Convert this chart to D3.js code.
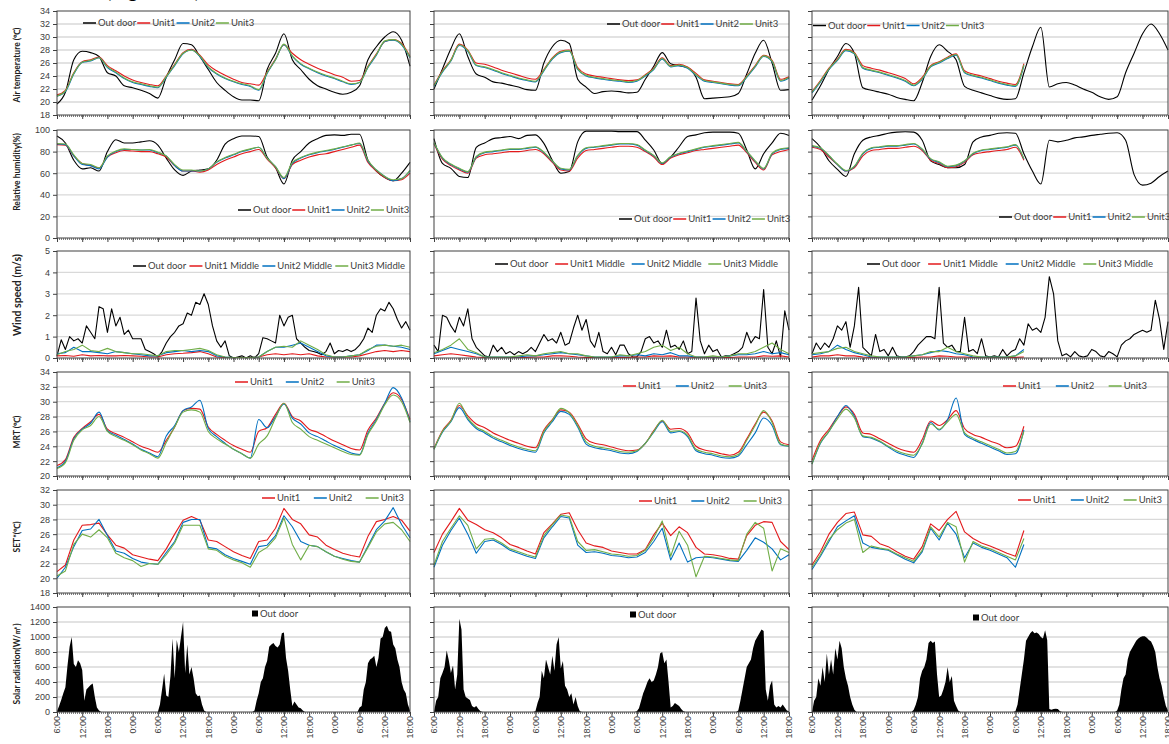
<!DOCTYPE html>
<html>
<head>
<meta charset="utf-8">
<script src="https://cdn.jsdelivr.net/npm/d3@7"></script>
<style>
  body { margin: 0; background: #fff; }
  svg { display: block; font-family: Lato, "Open Sans", sans-serif; }
  .tick text { font-size: 9px; fill: #404040; }
  .tick line { stroke: #404040; }
</style>
</head>
<body>
<svg id="chart" width="1169" height="744"></svg>
<script>
// ---- axis labels ----
const hourTicks = [0, 6, 12, 18, 24, 30, 36, 42, 48, 54, 60, 66, 72, 78, 84];
const hourLabels = ["6:00", "12:00", "18:00", "0:00", "6:00", "12:00", "18:00", "0:00",
  "6:00", "12:00", "18:00", "0:00", "6:00", "12:00", "18:00"];
const dateHours = [6, 30, 54, 78];
const datesA = ["11/1", "11/2", "11/3", "11/4"];
const datesB = ["11/6", "11/7", "11/8", "11/9"];
const datesC = ["11/13", "11/14", "11/15", "11/16"];

const airTicks = [18, 20, 22, 24, 26, 28, 30, 32, 34];
const rhTicks = [0, 20, 40, 60, 80, 100];
const windTicks = [0, 1, 2, 3, 4, 5];
const mrtTicks = [20, 22, 24, 26, 28, 30, 32, 34];
const setTicks = [18, 20, 22, 24, 26, 28, 30, 32];
const solarTicks = [0, 200, 400, 600, 800, 1000, 1200, 1400];

// ---- air temperature, every 2 h from 6:00 ----
const airOutA = [19.7,21.5,26.5,27.8,27.6,27.0,24.5,24.0,22.5,22.2,21.8,21.3,20.6,23.8,26.5,29.0,28.8,27.0,25.0,23.0,21.8,20.8,20.3,20.3,20.2,25.0,27.5,30.5,26.5,25.0,23.5,22.5,22.0,21.5,21.2,21.5,22.5,26.5,28.5,30.0,30.8,29.5,25.5];
const airU1A = [21.1,21.8,24.5,26.2,26.5,26.9,25.6,24.8,24.0,23.4,23.0,22.7,22.5,24.0,25.8,27.6,28.1,27.2,25.7,24.8,24.1,23.5,23.0,22.8,22.6,24.6,26.6,28.8,27.5,26.5,25.8,25.2,24.7,24.2,23.8,23.2,23.3,25.5,27.4,29.3,29.6,29.0,27.0];
const airU2A = [20.9,21.6,24.3,26.1,26.3,26.8,25.3,24.5,23.6,23.0,22.7,22.4,22.2,23.8,25.6,27.4,28.0,27.0,25.3,24.3,23.6,23.1,22.7,22.4,21.8,24.4,26.5,28.8,27.0,25.8,25.1,24.5,24.0,23.6,23.1,22.7,23.0,25.3,27.2,29.3,29.5,28.8,26.8];
const airU3A = [20.9,21.7,24.4,26.1,26.4,26.8,25.4,24.6,23.7,23.1,22.8,22.5,22.3,23.9,25.7,27.5,28.0,27.1,25.4,24.4,23.7,23.2,22.8,22.5,21.9,24.5,26.5,28.9,27.1,25.9,25.2,24.6,24.1,23.7,23.2,22.8,23.0,25.4,27.3,29.4,29.6,28.9,26.9];
const airOutB = [22.0,25.1,28.2,30.5,27.0,24.3,23.8,23.1,22.9,22.6,22.3,21.9,21.8,26.0,28.5,29.5,29.0,23.5,22.3,21.3,21.6,21.7,21.6,21.4,21.5,23.5,25.5,27.6,25.9,25.6,25.3,23.8,20.5,20.6,20.7,20.8,21.3,24.3,27.5,29.5,26.0,21.8,21.9];
const airU1B = [22.6,24.8,26.5,28.9,28.0,26.0,25.8,25.4,24.9,24.5,24.1,23.7,23.5,25.0,26.8,27.8,28.0,25.3,24.3,24.0,23.8,23.6,23.4,23.3,23.4,24.2,25.2,26.8,25.6,25.8,25.4,24.4,23.4,23.2,23.0,22.8,22.7,24.0,25.6,27.2,26.4,23.5,23.9];
const airU2B = [22.4,24.6,26.3,28.7,27.8,25.6,25.3,24.9,24.4,24.0,23.6,23.3,23.1,24.8,26.6,27.6,27.8,25.0,24.0,23.7,23.5,23.3,23.2,23.0,23.2,24.0,25.0,26.6,25.4,25.6,25.2,24.1,23.2,23.0,22.8,22.6,22.5,23.8,25.4,27.0,26.2,23.2,23.7];
const airU3B = [22.5,24.7,26.4,28.8,27.9,25.7,25.4,25.0,24.5,24.1,23.7,23.4,23.2,24.9,26.7,27.7,27.9,25.1,24.1,23.8,23.6,23.4,23.3,23.1,23.3,24.1,25.1,26.7,25.5,25.7,25.3,24.2,23.3,23.1,22.9,22.7,22.6,23.9,25.5,27.1,26.3,23.3,23.8];
const airOutC = [20.3,22.5,25.0,27.0,29.0,27.5,22.2,21.8,21.5,21.2,20.7,20.4,20.2,23.0,27.0,28.8,27.8,26.5,22.4,21.8,21.4,21.0,20.6,20.4,20.5,24.5,28.5,31.5,22.3,22.8,23.0,22.6,22.0,21.5,20.8,20.4,20.8,24.5,27.5,30.5,32.0,30.5,28.0];
const airU1C = [21.6,23.3,25.2,26.6,28.1,27.6,25.6,25.2,24.9,24.5,24.1,23.6,22.8,23.8,25.6,26.2,26.9,27.4,24.8,24.3,24.0,23.6,23.2,22.9,22.7,25.9];
const airU2C = [21.4,23.1,25.0,26.4,27.9,27.4,25.2,24.8,24.5,24.1,23.7,23.2,22.5,23.5,25.4,26.0,26.7,27.2,24.5,24.0,23.7,23.3,22.9,22.6,22.4,25.6];
const airU3C = [21.5,23.2,25.1,26.5,28.0,27.5,25.3,24.9,24.6,24.2,23.8,23.3,22.6,23.6,25.5,26.1,26.8,27.3,24.6,24.1,23.8,23.4,23.0,22.7,22.5,25.7];

// ---- relative humidity, every 2 h ----
const rhOutA = [94.5,88,72,64,65,62,80,91,88,88,89,90,86,74,63,58,62,63,64,72,87,92,94.5,94.5,94,75,65,50,72,80,88,92,95,95.5,95,96,96,72,62,56,53,60,70];
const rhU1A = [86.5,86,76,69,67,65,75,79,81,80.5,80,80,78,75,67,62,62,61,63,68,72,75,78,80,82,73,65,55,68,72,75,77,78,80,82,84,86,70,62,56,53,54,60];
const rhU2A = [87,86.5,76,68,67,64,75,80,82,82,81.5,81.5,79,76,67,62,62,62,64,70,74,77,80,82,84,74,66,55,69,74,77,79,80.5,82,84,86,87.5,71,63,57,53,55,62];
const rhU3A = [87.5,87,77,69,68,65,76,80.5,82.5,82,81.5,82,79.5,76,68,63,63,62,64,70.5,74.5,77.5,80.5,82.5,84,74,66,56,70,74.5,77.5,79.5,81,82.5,84.5,86,88,72,63,57,54,55,63];
const rhOutB = [92,69,64.5,57,56,84,88,92,93,94,92,95,95.5,87.6,72,60,61.5,89,99,99,99,99,98.5,98.5,98.5,90.7,81.5,69,75,84.5,94,95.5,97.5,98,98,98,97,81.5,64,78,88,97,95];
const rhU1B = [87,73,67,63,60,74,77,78,79,80,80,81,82,78,70,63,62,74,81,82,83,84,85,85,84,80,75,68,74,77,79,81,82,83,84,85,86,79,70,63,77,80,82];
const rhU2B = [88,74,68,64,61,75,79,80,81,82,82,83,84,79,71,64,63,76,83,84,85,86,87,87,86,81,76,69,75,78,80,82,84,85,86,87,88,80,71,64,78,82,83];
const rhU3B = [88.5,74.5,68.5,64.5,61.5,75.5,79.5,80.5,81.5,82.5,82.5,83.5,84.5,79.5,71.5,64.5,63.5,76.5,83.5,84.5,85.5,86.5,87.5,87.5,86.5,81.5,76.5,69.5,75.5,78.5,80.5,82.5,84.5,85.5,86.5,87.5,88.5,80.5,71.5,64.5,78.5,82.5,83.5];
const rhOutC = [92,84,71.5,63.5,57,78,90.5,93.6,95,97,98,98.4,98,90.5,71.4,68,65,65,68,89,93.6,95,97,97.5,97,78,62,50,90.5,89,90.5,92.7,93.6,95,96,97,97.5,90.5,58.7,49,50.8,57,62];
const rhU1C = [84,82,75,68,62,65,76,81,82,83,83,84,85,81,72,69,65,66,70,77,79,80,81,82,84,72];
const rhU2C = [85,83,76,68,62,66,78,83,84,85,85,86,87,82,73,70,66,67,71,78,81,82,83,84,86,73];
const rhU3C = [85.5,83.5,76.5,68.5,62.5,66.5,78.5,83.5,84.5,85.5,85.5,86.5,87.5,82.5,73.5,70.5,66.5,67.5,71.5,78.5,81.5,82.5,83.5,84.5,86.5,73.5];

// ---- wind speed: outdoor hourly, units every 2 h ----
const windOutA = [0.1,0.85,0.4,1.0,0.8,0.9,0.7,1.5,1.2,0.9,2.4,2.3,1.2,2.3,1.5,1.9,1.1,1.3,0.9,0.9,0.9,0.4,0.3,0.2,0.05,0.3,0.7,1.0,1.2,1.5,1.6,2.1,2.0,2.6,2.5,3.0,2.5,1.5,0.8,0.5,0.8,0.1,0.0,0.05,0.1,0.0,0.1,0.0,0.2,0.95,0.9,0.8,0.7,2.0,1.5,1.9,2.0,0.9,0.7,0.5,0.35,0.3,0.25,0.15,0.3,0.7,0.2,0.35,0.3,0.4,0.3,0.4,0.6,0.9,1.4,1.2,2.0,2.3,2.2,2.6,2.3,1.8,1.4,1.7,1.3];
const windU1A = [0.1,0.12,0.08,0.15,0.1,0.12,0.1,0.1,0.12,0.1,0.08,0.05,0.05,0.15,0.2,0.22,0.25,0.3,0.2,0.05,0.02,0.02,0.02,0.02,0.05,0.15,0.2,0.15,0.2,0.15,0.2,0.1,0.05,0.05,0.05,0.05,0.1,0.2,0.3,0.35,0.3,0.35,0.3];
const windU2A = [0.2,0.25,0.5,0.3,0.3,0.25,0.2,0.3,0.25,0.2,0.15,0.1,0.1,0.25,0.3,0.35,0.3,0.35,0.3,0.1,0.05,0.02,0.02,0.02,0.05,0.3,0.5,0.5,0.6,0.7,0.5,0.3,0.1,0.05,0.05,0.1,0.15,0.35,0.6,0.6,0.55,0.5,0.4];
const windU3A = [0.15,0.3,0.4,0.6,0.35,0.3,0.45,0.3,0.25,0.2,0.2,0.15,0.1,0.3,0.35,0.35,0.4,0.45,0.35,0.15,0.05,0.02,0.02,0.02,0.05,0.3,0.5,0.55,0.5,0.8,0.6,0.4,0.15,0.05,0.05,0.1,0.15,0.4,0.55,0.6,0.55,0.6,0.5];
const windOutB = [0.6,0.3,2.0,1.9,1.5,1.2,1.9,1.5,2.3,0.9,0.5,0.3,0.1,0.05,0.6,0.3,0.5,0.2,0.3,0.15,0.3,0.2,0.3,0.5,0.3,0.7,1.1,0.8,0.9,0.7,1.2,0.6,0.7,1.4,2.0,1.3,1.8,0.8,0.5,1.2,0.3,0.2,0.5,0.15,0.6,0.6,0.2,0.05,0.05,0.3,0.9,1.0,0.7,0.8,0.5,1.3,0.5,0.6,0.4,0.8,0.2,0.3,2.8,0.8,0.2,0.6,0.3,0.4,0.05,0.1,0.1,0.2,0.3,0.5,1.2,0.7,1.0,0.9,3.2,0.5,0.2,0.8,0.05,2.2,1.3];
const windU1B = [0.1,0.15,0.2,0.15,0.1,0.05,0.02,0.02,0.02,0.02,0.03,0.03,0.05,0.05,0.1,0.1,0.08,0.05,0.03,0.02,0.02,0.02,0.03,0.03,0.05,0.05,0.1,0.08,0.1,0.05,0.05,0.03,0.03,0.03,0.02,0.02,0.05,0.05,0.05,0.1,0.08,0.1,0.05];
const windU2B = [0.2,0.35,0.5,0.4,0.3,0.2,0.05,0.05,0.05,0.05,0.05,0.1,0.1,0.15,0.2,0.25,0.2,0.15,0.1,0.05,0.05,0.05,0.1,0.1,0.15,0.1,0.2,0.15,0.25,0.1,0.1,0.05,0.05,0.05,0.05,0.1,0.15,0.15,0.2,0.3,0.2,0.25,0.15];
const windU3B = [0.25,0.4,0.6,0.9,0.4,0.25,0.05,0.05,0.05,0.05,0.1,0.15,0.1,0.2,0.25,0.3,0.2,0.2,0.1,0.05,0.05,0.05,0.15,0.1,0.2,0.3,0.5,0.6,0.35,0.5,0.2,0.05,0.05,0.1,0.05,0.1,0.2,0.2,0.3,0.5,0.7,0.4,0.2];
const windOutC = [0.2,0.7,0.4,0.7,0.5,0.9,1.5,1.3,1.7,0.5,1.5,3.3,0.5,0.3,0.1,1.1,0.3,0.4,0.1,0.5,0.1,0.05,0.05,0.1,0.3,0.6,0.8,1.0,1.0,0.9,3.3,0.7,0.5,0.6,0.3,0.3,1.9,0.3,0.4,0.2,0.9,0.1,0.05,0.1,0.05,0.4,0.1,0.3,0.4,0.9,0.6,1.6,1.3,1.4,1.2,1.9,3.8,3.0,0.8,0.1,0.2,0.05,0.3,0.1,0.05,0.1,0.4,0.3,0.1,0.05,0.3,0.2,0.05,0.6,0.8,0.9,1.1,1.2,1.3,1.2,1.3,2.7,1.8,0.4,1.7];
const windU1C = [0.05,0.1,0.1,0.15,0.1,0.1,0.05,0.02,0.02,0.02,0.02,0.02,0.03,0.05,0.05,0.1,0.08,0.05,0.05,0.02,0.02,0.02,0.02,0.02,0.03,0.05];
const windU2C = [0.15,0.2,0.3,0.6,0.4,0.25,0.15,0.05,0.05,0.05,0.05,0.05,0.1,0.15,0.25,0.35,0.3,0.2,0.15,0.05,0.05,0.05,0.05,0.05,0.1,0.4];
const windU3C = [0.2,0.25,0.3,0.45,0.5,0.3,0.2,0.1,0.05,0.05,0.05,0.05,0.1,0.15,0.3,0.3,0.5,0.3,0.2,0.1,0.05,0.05,0.05,0.05,0.1,0.3];

// ---- MRT, every 2 h ----
const mrtU1A = [21.4,22.2,25.2,26.4,27.3,28.3,26.3,25.7,25.2,24.6,24.0,23.6,23.2,24.8,26.6,28.8,29.1,29.0,26.6,25.6,24.8,24.1,23.6,23.2,26.0,26.5,28.3,29.8,28.0,27.4,26.3,25.9,25.3,24.7,24.2,23.7,23.5,26.2,27.8,29.8,31.2,30.3,27.6];
const mrtU2A = [21.1,22.0,25.0,26.3,27.1,28.6,26.1,25.5,24.9,24.3,23.6,23.1,22.6,25.4,26.8,28.8,29.3,30.2,26.4,25.3,24.4,23.6,23.0,22.4,27.6,26.5,28.0,29.7,27.8,27.0,25.8,25.3,24.7,24.1,23.6,23.1,22.9,25.8,27.6,29.8,31.9,30.5,27.3];
const mrtU3A = [21.0,21.8,24.8,26.2,26.8,28.0,26.0,25.3,24.8,24.2,23.5,23.0,22.4,24.5,26.6,28.6,28.9,28.6,26.0,25.0,24.3,23.6,23.0,22.4,24.3,25.4,27.8,29.8,27.2,26.3,25.3,24.8,24.3,23.8,23.3,22.9,22.8,25.6,27.4,29.6,30.9,30.0,27.2];
const mrtU1B = [23.7,26.1,27.5,29.5,28.1,27.0,26.5,25.8,25.3,24.8,24.4,24.0,23.8,26.2,27.6,28.9,28.6,27.0,25.0,24.4,24.2,23.9,23.6,23.4,23.5,24.4,26.1,27.4,26.3,26.4,25.8,24.0,23.5,23.3,23.0,22.8,23.2,25.0,27.0,28.6,27.4,24.6,24.2];
const mrtU2B = [23.6,25.9,27.3,29.2,27.6,26.4,25.8,25.1,24.6,24.1,23.7,23.4,23.2,25.8,27.3,28.7,28.3,26.6,24.3,23.8,23.6,23.4,23.1,23.0,23.3,24.4,25.9,27.3,25.8,26.0,25.3,23.4,23.0,22.8,22.5,22.4,22.7,24.2,25.8,27.8,26.8,24.2,24.0];
const mrtU3B = [23.6,26.0,27.4,29.8,27.8,26.6,26.0,25.3,24.8,24.3,23.9,23.6,23.4,26.0,27.5,29.1,28.5,26.8,24.6,24.0,23.8,23.6,23.3,23.2,23.4,24.4,26.0,27.5,26.0,26.1,25.5,23.6,23.2,23.0,22.7,22.6,22.9,24.8,26.8,28.8,27.2,24.3,24.0];
const mrtU1C = [22.1,24.8,26.3,28.0,29.3,28.3,25.8,25.6,25.0,24.4,23.8,23.4,23.2,24.9,27.4,26.8,27.6,28.8,26.4,25.6,25.2,24.7,24.3,23.8,24.0,26.7];
const mrtU2C = [21.6,24.4,26.0,28.0,29.5,28.0,25.3,25.1,24.6,23.9,23.2,22.8,22.5,24.4,27.2,26.2,27.6,30.5,25.6,24.9,24.4,23.9,23.4,22.9,23.0,26.2];
const mrtU3C = [21.6,24.5,26.0,27.7,29.0,27.8,25.4,25.2,24.7,24.0,23.4,23.0,22.8,24.3,27.0,26.3,27.3,28.3,25.8,25.1,24.6,24.1,23.6,23.1,23.3,26.0];

// ---- SET*, every 2 h ----
const setU1A = [20.9,21.8,25.2,27.2,27.3,27.5,25.9,24.5,24.1,23.2,22.9,22.6,22.4,24.0,26.0,27.9,28.4,27.9,25.2,25.0,24.3,23.6,23.1,22.7,25.0,25.2,26.8,29.5,28.0,27.4,25.9,25.6,24.5,23.9,23.4,23.1,22.9,25.7,27.7,28.0,28.4,27.9,26.4];
const setU2A = [20.0,21.5,24.3,26.5,26.7,28.0,25.8,23.7,23.4,22.7,22.2,22.0,21.9,23.5,25.0,27.6,28.0,28.0,24.2,24.0,23.2,22.7,22.3,21.9,24.3,24.5,25.8,28.5,27.0,25.0,24.5,24.3,23.6,23.0,22.7,22.4,22.2,24.4,26.6,27.8,29.6,27.3,25.5];
const setU3A = [20.3,21.0,24.6,26.0,25.6,26.6,25.5,23.4,22.8,22.4,21.6,22.0,21.9,23.2,24.8,27.2,27.2,27.2,24.0,23.8,23.0,22.5,22.1,21.5,23.5,24.2,25.5,28.2,24.6,22.5,24.5,24.3,23.6,23.0,22.6,22.3,22.2,24.2,26.3,27.4,27.6,26.6,25.0];
const setU1B = [23.5,26.0,27.7,29.5,27.9,27.3,26.6,26.2,25.5,24.6,24.2,23.7,23.3,26.2,27.4,28.7,28.9,26.6,24.8,24.4,24.2,23.7,23.5,23.3,23.3,23.9,25.9,27.5,25.8,27.0,26.2,24.2,23.3,23.2,23.0,22.7,22.6,25.8,27.2,27.7,27.6,25.0,23.9];
const setU2B = [21.5,24.5,26.5,28.2,26.0,23.4,25.0,25.2,24.6,23.8,23.4,23.0,22.7,25.5,27.0,28.4,28.2,24.5,23.5,23.6,23.4,23.1,23.0,22.8,22.9,23.5,25.0,26.8,22.5,24.8,22.2,22.8,22.9,22.8,22.6,22.4,22.3,23.8,25.5,24.9,24.0,22.5,23.2];
const setU3B = [21.8,25.0,26.8,28.5,27.2,24.0,25.3,25.4,24.8,24.0,23.6,23.2,22.9,25.8,27.3,28.6,28.4,25.0,23.8,23.9,23.6,23.3,23.2,23.0,23.1,23.8,25.5,27.8,23.0,26.4,24.5,20.2,23.0,22.9,22.7,22.5,22.4,26.0,27.6,26.8,21.0,24.0,23.5];
const setU1C = [21.8,23.6,26.0,27.6,28.8,29.0,25.9,25.7,24.7,24.3,23.6,23.0,22.6,24.3,27.4,26.5,28.0,29.1,26.3,25.4,24.8,24.4,23.9,23.4,23.0,26.5];
const setU2C = [21.2,23.0,25.0,27.0,27.8,28.5,24.8,24.2,24.0,23.8,23.2,22.6,22.1,23.6,26.8,25.2,27.5,26.0,22.8,24.8,24.2,23.8,23.3,22.8,21.5,24.6];
const setU3C = [21.5,23.2,25.3,26.6,27.5,28.0,23.5,24.4,24.1,23.9,23.3,22.8,22.3,23.8,27.0,25.6,27.6,27.0,22.2,25.0,24.4,24.0,23.5,23.0,22.5,25.4];

// ---- solar radiation, every 30 min ----
const solarA = [10,80,160,250,330,620,870,1000,640,600,690,650,560,150,300,330,360,380,200,60,20,
  0,0,0,0,0,0,0,0,0,0,0,0,0,0,0,0,0,0,0,0,0,0,0,0,0,0,0,
  0,100,300,510,220,200,480,980,450,960,800,1000,1200,520,900,500,600,450,250,210,220,100,20,
  0,0,0,0,0,0,0,0,0,0,0,0,0,0,0,0,0,0,0,0,0,0,0,
  20,150,250,400,450,600,680,870,900,920,880,860,900,1050,1060,720,550,300,80,140,100,60,50,20,
  0,0,0,0,0,0,0,0,0,0,0,0,0,0,0,0,0,0,0,0,0,0,0,0,0,
  0,60,80,300,400,650,700,720,750,600,720,980,1000,1120,1150,1080,1070,900,850,700,600,400,300,250,100,20];
const solarB = [0,150,200,450,520,600,820,690,520,620,300,500,1245,1100,300,200,180,160,80,60,80,40,10,
  0,0,0,0,0,0,0,0,0,0,0,0,0,0,0,0,0,0,0,0,0,0,0,0,0,
  10,120,200,550,450,700,600,500,750,550,900,1000,580,680,350,300,200,250,100,200,80,10,
  0,0,0,0,0,0,0,0,0,0,0,0,0,0,0,0,0,0,0,0,0,0,0,0,0,0,
  10,50,150,250,320,400,450,400,420,500,600,780,800,650,700,400,60,80,120,100,80,40,10,
  0,0,0,0,0,0,0,0,0,0,0,0,0,0,0,0,0,0,0,0,0,0,0,0,0,
  20,150,300,450,600,650,700,850,950,1000,1050,1100,1080,300,150,350,420,100,60,80,60,100,60,20,10];
const solarC = [0,150,200,450,350,600,400,780,500,700,500,850,700,950,850,600,450,350,200,100,30,
  0,0,0,0,0,0,0,0,0,0,0,0,0,0,0,0,0,0,0,0,0,0,0,0,0,0,0,
  30,100,200,450,550,600,700,920,950,920,940,500,200,220,300,400,600,400,480,150,80,20,
  0,0,0,0,0,0,0,0,0,0,0,0,0,0,0,0,0,0,0,0,0,0,0,0,0,0,
  10,100,300,500,700,950,1000,1050,1080,1050,1060,1040,1000,980,1090,960,40,30,40,45,40,10,
  0,0,0,0,0,0,0,0,0,0,0,0,0,0,0,0,0,0,0,0,0,0,0,0,0,0,
  20,100,300,450,500,700,800,850,900,950,980,1000,1010,1010,990,960,940,880,800,600,450,350,200,80,20];

// ---- layout ----
const COLORS = { out: "#000000", u1: "#e31a1c", u2: "#0070c0", u3: "#70ad47" };
const COLS = [
  { x0: 57, x1: 410, dates: datesA },
  { x0: 434, x1: 789, dates: datesB },
  { x0: 812, x1: 1168, dates: datesC },
];

const ROWS = [
  {
    y0: 11, y1: 115, ticks: airTicks, title: "Air temperature (℃)", titleY: 65, smooth: true,
    names: ["Out door", "Unit1", "Unit2", "Unit3"], keys: ["out", "u1", "u2", "u3"], steps: [2, 2, 2, 2],
    data: [[airOutA, airU1A, airU2A, airU3A], [airOutB, airU1B, airU2B, airU3B], [airOutC, airU1C, airU2C, airU3C]],
    legend: [[83, 252, 23], [607, 777, 24], [813, 984, 25.5]],
  },
  {
    y0: 130, y1: 238, ticks: rhTicks, title: "Relative humidity(%)", titleY: 172, smooth: true,
    names: ["Out door", "Unit1", "Unit2", "Unit3"], keys: ["out", "u1", "u2", "u3"], steps: [2, 2, 2, 2],
    data: [[rhOutA, rhU1A, rhU2A, rhU3A], [rhOutB, rhU1B, rhU2B, rhU3B], [rhOutC, rhU1C, rhU2C, rhU3C]],
    legend: [[238, 406, 210], [619, 789, 219], [999, 1167, 217]],
  },
  {
    y0: 251, y1: 358, ticks: windTicks, title: "Wind speed (m/s)", titleStart: 336, titleSize: 10.5,
    names: ["Out door", "Unit1 Middle", "Unit2 Middle", "Unit3 Middle"], keys: ["out", "u1", "u2", "u3"], steps: [1, 2, 2, 2],
    data: [[windOutA, windU1A, windU2A, windU3A], [windOutB, windU1B, windU2B, windU3B], [windOutC, windU1C, windU2C, windU3C]],
    legend: [[133, 405, 266], [495, 778, 264], [867, 1153, 264]],
  },
  {
    y0: 372, y1: 476, ticks: mrtTicks, title: "MRT (℃)", titleY: 432, smooth: true,
    names: ["Unit1", "Unit2", "Unit3"], keys: ["u1", "u2", "u3"], steps: [2, 2, 2],
    data: [[mrtU1A, mrtU2A, mrtU3A], [mrtU1B, mrtU2B, mrtU3B], [mrtU1C, mrtU2C, mrtU3C]],
    legend: [[235, 375, 382], [623, 767, 386], [1003, 1147, 386]],
  },
  {
    y0: 490, y1: 593, ticks: setTicks, title: "SET*(℃)", titleY: 537,
    names: ["Unit1", "Unit2", "Unit3"], keys: ["u1", "u2", "u3"], steps: [2, 2, 2],
    data: [[setU1A, setU2A, setU3A], [setU1B, setU2B, setU3B], [setU1C, setU2C, setU3C]],
    legend: [[262, 404, 498], [639, 782, 501], [1018, 1162, 500]],
  },
  {
    y0: 607, y1: 712, ticks: solarTicks, title: "Solar radiation(W/㎡)", titleY: 664, area: true,
    names: ["Out door"], keys: ["out"], steps: [0.5],
    data: [[solarA], [solarB], [solarC]],
    legend: [[252, 0, 614], [630, 0, 615], [973, 0, 618]],
  },
];

const svg = d3.select("#chart");

// caption cut off by the top edge of the page
svg.append("text")
  .attr("x", 106).attr("y", -2)
  .attr("font-size", 20)
  .attr("fill", "#000")
  .text("(Figure 10)");

svg.append("defs").append("clipPath").attr("id", "wind-title-clip")
  .append("rect").attr("x", 0).attr("y", 250).attr("width", 40).attr("height", 115);

function drawLegend(g, items, x0, x1, yc, square) {
  const lg = g.append("g");
  const sym = square ? 8 : 15;
  const parts = items.map((it) => {
    const t = lg.append("text")
      .attr("y", yc).attr("dy", "0.35em")
      .attr("font-size", 9.5).attr("fill", "#404040")
      .text(it.name);
    return { it, t, w: t.node().getComputedTextLength() };
  });
  const total = d3.sum(parts, (p) => sym + p.w);
  const gap = parts.length > 1 ? Math.max(1, (x1 - x0 - total) / (parts.length - 1)) : 0;
  let cx = x0;
  parts.forEach((p) => {
    if (square) {
      lg.append("rect").attr("x", cx).attr("y", yc - 3.5)
        .attr("width", 6).attr("height", 6).attr("fill", p.it.color);
    } else {
      lg.append("line").attr("x1", cx).attr("x2", cx + 13)
        .attr("y1", yc).attr("y2", yc)
        .attr("stroke", p.it.color).attr("stroke-width", 1.5);
    }
    p.t.attr("x", cx + sym);
    cx += sym + p.w + gap;
  });
}

ROWS.forEach((row, r) => {
  COLS.forEach((col, c) => {
    const g = svg.append("g");
    const x = d3.scaleLinear().domain([0, 84]).range([col.x0, col.x1]);
    const y = d3.scaleLinear().domain(d3.extent(row.ticks)).range([row.y1, row.y0]);

    // gridlines
    g.append("g").selectAll("line")
      .data(row.ticks.slice(1, -1))
      .join("line")
      .attr("x1", col.x0).attr("x2", col.x1)
      .attr("y1", (d) => y(d)).attr("y2", (d) => y(d))
      .attr("stroke", "#d9d9d9").attr("stroke-width", 1.3);

    // series
    row.data[c].forEach((vals, k) => {
      const step = row.steps[k];
      const color = COLORS[row.keys[k]];
      if (row.area) {
        const area = d3.area()
          .x((d, i) => x(i * step))
          .y0(y(0))
          .y1((d) => y(d));
        g.append("path").datum(vals).attr("d", area).attr("fill", color);
      } else {
        const line = d3.line()
          .x((d, i) => x(i * step))
          .y((d) => y(d))
          .curve(row.smooth ? d3.curveMonotoneX : d3.curveLinear);
        g.append("path").datum(vals)
          .attr("d", line)
          .attr("fill", "none")
          .attr("stroke", color)
          .attr("stroke-width", 1.1)
          .attr("stroke-linejoin", "round");
      }
    });

    // frame
    g.append("rect")
      .attr("x", col.x0).attr("y", row.y0)
      .attr("width", col.x1 - col.x0).attr("height", row.y1 - row.y0)
      .attr("fill", "none").attr("stroke", "#404040").attr("stroke-width", 1);
    g.append("line")
      .attr("x1", col.x0).attr("x2", col.x1).attr("y1", row.y1 + 1).attr("y2", row.y1 + 1)
      .attr("stroke", "#555").attr("stroke-width", 1.5).attr("stroke-dasharray", "1,1");

    // y axis
    const yAxis = d3.axisLeft(y)
      .tickValues(row.ticks)
      .tickSize(4)
      .tickPadding(3)
      .tickFormat(c === 0 ? d3.format("d") : () => "");
    g.append("g")
      .attr("transform", `translate(${col.x0},0)`)
      .call(yAxis)
      .call((a) => a.select(".domain").remove());

    // x axis
    const isBottom = r === ROWS.length - 1;
    const xAxis = d3.axisBottom(x)
      .tickValues(hourTicks)
      .tickSize(4)
      .tickFormat(isBottom ? (d, i) => hourLabels[i] : () => "");
    const xa = g.append("g")
      .attr("transform", `translate(0,${row.y1})`)
      .call(xAxis);
    xa.select(".domain").remove();
    if (isBottom) {
      xa.selectAll("text")
        .attr("transform", "rotate(-90)")
        .attr("text-anchor", "end")
        .attr("x", -4)
        .attr("y", 0)
        .attr("dy", "0.32em");
      // date labels sit below the page edge, as in the source figure
      g.append("g").selectAll("text")
        .data(col.dates)
        .join("text")
        .attr("x", (d, i) => x(dateHours[i]))
        .attr("y", 751)
        .attr("text-anchor", "middle")
        .attr("font-size", 9)
        .attr("fill", "#404040")
        .text((d) => d);
    }

    // legend
    const [lx0, lx1, ly] = row.legend[c];
    drawLegend(
      g,
      row.names.map((name, k) => ({ name, color: COLORS[row.keys[k]] })),
      lx0, lx1, ly, !!row.area
    );

    // y title (first column only)
    if (c === 0) {
      const t = svg.append("text")
        .attr("font-size", row.titleSize || 8.5)
        .attr("font-weight", "bold")
        .attr("fill", "#222")
        .attr("dy", "0.35em")
        .text(row.title);
      if (row.titleStart) {
        t.attr("transform", `translate(17,${row.titleStart}) rotate(-90)`)
          .attr("text-anchor", "start");
        svg.append("g").attr("clip-path", "url(#wind-title-clip)").node().appendChild(t.node());
      } else {
        t.attr("transform", `translate(17,${row.titleY}) rotate(-90)`)
          .attr("text-anchor", "middle");
      }
    }
  });
});
</script>
</body>
</html>
